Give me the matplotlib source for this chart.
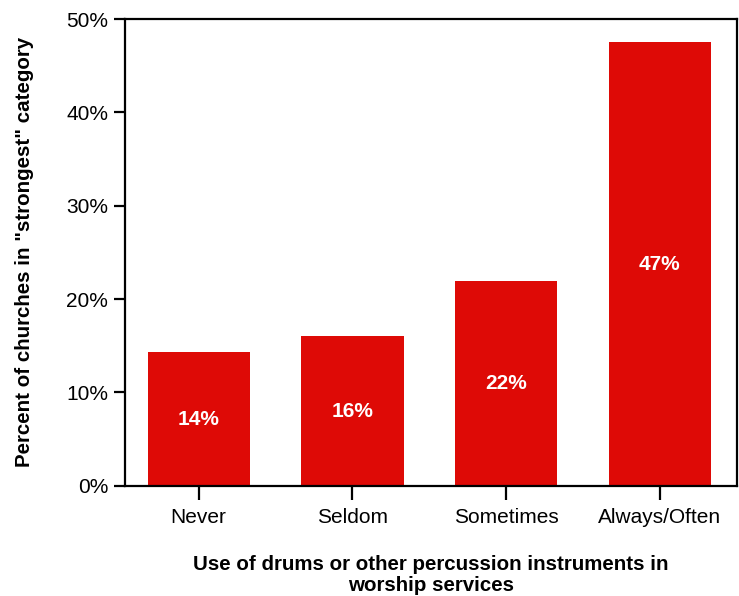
import matplotlib
matplotlib.use("Agg")
import matplotlib.pyplot as plt
from matplotlib.ticker import FuncFormatter

categories = ["Never", "Seldom", "Sometimes", "Always/Often"]
values = [14.3, 16.0, 21.9, 47.5]
bar_labels = ["14%", "16%", "22%", "47%"]
yticks = [0, 10, 20, 30, 40, 50]

plt.rcParams['font.family'] = ['Liberation Sans', 'DejaVu Sans']

fig = plt.figure(figsize=(7.39, 5.96), dpi=100)
ax = fig.add_axes([0.169, 0.185, 0.828, 0.783])

x = range(len(categories))
bars = ax.bar(x, values, width=0.665, color='#DE0A06')

# value labels in the middle of each bar
for b, lab in zip(bars, bar_labels):
    ax.text(b.get_x() + b.get_width() / 2, b.get_height() / 2, lab,
            ha='center', va='center', color='white', fontsize=15, fontweight='bold')

ax.set_xlim(-0.48, 3.5)
ax.set_ylim(0, 50)
ax.set_yticks(yticks)
ax.yaxis.set_major_formatter(FuncFormatter(lambda v, p: f"{v:.0f}%"))
ax.set_xticks(list(x))
ax.set_xticklabels(categories)

for s in ax.spines.values():
    s.set_linewidth(1.6)
ax.tick_params(axis='both', labelsize=15, width=1.6, color='black')
ax.tick_params(axis='y', length=8, pad=4)
ax.tick_params(axis='x', length=10, pad=6)

ax.set_xlabel("Use of drums or other percussion instruments in\nworship services",
              fontsize=14.8, fontweight='bold', labelpad=20, linespacing=1.15)
ax.set_ylabel('Percent of churches in "strongest" category',
              fontsize=14.8, fontweight='bold', labelpad=23)

fig.savefig("out.png", dpi=100)
